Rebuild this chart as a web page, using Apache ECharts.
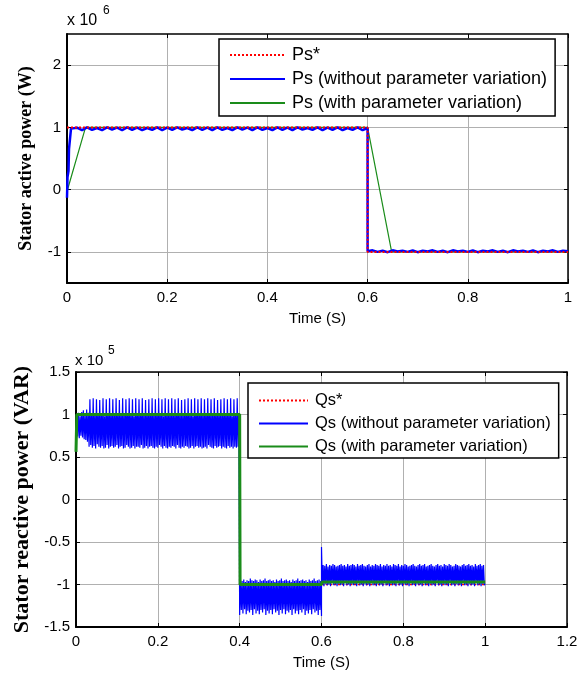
<!DOCTYPE html>
<html>
<head>
<meta charset="utf-8">
<title>Stator power</title>
<script src="https://cdn.jsdelivr.net/npm/echarts@6.0.0/dist/echarts.min.js"></script>
<style>
  html, body { margin: 0; padding: 0; background: #fff; }
  #chart { width: 585px; height: 675px; }
</style>
</head>
<body>
<div id="chart"></div>
<script>
// ---- data (top in x1e6 W, bottom in x1e5 VAR) ----
var yTicksTop = [-1, 0, 1, 2];

var psRefT = [0, 0.6, 0.6, 1];
var psRef = [1, 1, -1, -1];

var psBlueStartT = [0, 0.001, 0.003, 0.004, 0.006, 0.008];
var psBlueStart = [-0.13, 0.2, 0.3, 0.65, 0.66, 0.98];
// from t = 0.01 to 0.60, every 0.01 s
var psBlueOn = [
    0.96, 0.995, 0.955, 1.0, 0.96, 0.99, 0.955, 1.0, 0.965, 0.995,
    0.955, 1.0, 0.96, 0.995, 0.955, 0.99, 0.96, 1.0, 0.955, 0.995,
    0.96, 1.0, 0.965, 0.99, 0.955, 1.0, 0.96, 0.995, 0.955, 1.0,
    0.96, 0.99, 0.955, 1.0, 0.965, 0.995, 0.955, 1.0, 0.96, 0.99,
    0.955, 1.0, 0.96, 0.995, 0.955, 1.0, 0.965, 0.99, 0.96, 1.0,
    0.955, 0.995, 0.96, 1.0, 0.955, 0.99, 0.96, 1.0, 0.955, 0.99
];
// from t = 0.60 to 1.00, every 0.01 s
var psBlueOff = [
    -0.99, -0.975, -1.0, -0.98, -1.005, -0.975, -0.995, -0.98, -1.0, -0.975,
    -1.005, -0.98, -0.995, -0.975, -1.0, -0.98, -1.005, -0.975, -0.995, -0.98,
    -1.0, -0.975, -1.005, -0.98, -0.995, -0.975, -1.0, -0.98, -1.005, -0.975,
    -0.995, -0.98, -1.0, -0.975, -1.005, -0.98, -0.995, -0.975, -1.0, -0.98,
    -0.99
];

var psGreenT = [0, 0.037, 0.6, 0.648, 1];
var psGreen = [-0.03, 1, 1, -1, -1];

var qsRefT = [0, 0.4, 0.4, 1];
var qsRef = [1, 1, -1, -1];

// blue, from t = 0 to 0.40, every 0.002 s
var qsBlueA = [
    0.57, 1.00, 0.74, 1.02, 0.72, 0.98, 0.75, 1.03, 0.73, 1.05, 0.71, 1.00, 0.70, 1.06, 0.68, 1.02,
    0.62, 1.18, 0.64, 1.00, 0.61, 1.19, 0.63, 0.99, 0.60, 1.18, 0.65, 1.01, 0.62, 1.17, 0.61, 1.00, 0.63, 1.19, 0.60, 0.98,
    0.61, 1.18, 0.64, 1.01, 0.60, 1.19, 0.62, 1.00, 0.63, 1.18, 0.61, 0.99, 0.62, 1.19, 0.64, 1.01, 0.60, 1.17, 0.62, 1.00,
    0.63, 1.19, 0.60, 0.99, 0.61, 1.18, 0.64, 1.01, 0.62, 1.19, 0.60, 1.00, 0.61, 1.18, 0.63, 0.98, 0.60, 1.19, 0.62, 1.01,
    0.62, 1.18, 0.61, 1.00, 0.64, 1.19, 0.60, 0.99, 0.61, 1.17, 0.63, 1.01, 0.60, 1.18, 0.62, 1.00, 0.63, 1.19, 0.61, 0.99,
    0.60, 1.18, 0.62, 1.01, 0.61, 1.19, 0.64, 1.00, 0.62, 1.18, 0.60, 0.98, 0.63, 1.19, 0.61, 1.01, 0.60, 1.18, 0.62, 1.00,
    0.61, 1.19, 0.63, 0.99, 0.62, 1.18, 0.60, 1.01, 0.64, 1.19, 0.61, 1.00, 0.60, 1.17, 0.62, 0.99, 0.61, 1.18, 0.63, 1.01,
    0.62, 1.19, 0.60, 1.00, 0.61, 1.18, 0.63, 0.98, 0.60, 1.19, 0.62, 1.01, 0.63, 1.18, 0.61, 1.00, 0.62, 1.19, 0.60, 0.99,
    0.61, 1.18, 0.62, 1.01, 0.60, 1.19, 0.64, 1.00, 0.62, 1.18, 0.61, 0.99, 0.60, 1.19, 0.63, 1.01, 0.61, 1.17, 0.62, 1.00,
    0.63, 1.18, 0.60, 0.99, 0.62, 1.19, 0.61, 1.01, 0.60, 1.18, 0.63, 1.00, 0.61, 1.19, 0.62, 0.98, 0.60, 1.18, 0.62, 1.00,
    0.61, 1.19, 0.62, 1.00, 1.00
];
// blue, from t = 0.40 to 0.60, every 0.002 s
var qsBlueB = [
    -1.36, -0.95, -1.30, -0.96, -1.34, -0.94, -1.29, -0.97, -1.35, -0.95, -1.31, -0.96, -1.33, -0.93, -1.30, -0.95, -1.36, -0.96, -1.29, -0.94,
    -1.34, -0.95, -1.31, -0.97, -1.35, -0.94, -1.30, -0.96, -1.33, -0.95, -1.29, -0.93, -1.36, -0.96, -1.31, -0.95, -1.34, -0.94, -1.30, -0.96,
    -1.35, -0.95, -1.29, -0.97, -1.33, -0.94, -1.31, -0.96, -1.36, -0.95, -1.30, -0.93, -1.34, -0.96, -1.29, -0.95, -1.35, -0.94, -1.31, -0.96,
    -1.33, -0.95, -1.30, -0.97, -1.36, -0.94, -1.29, -0.96, -1.34, -0.95, -1.31, -0.93, -1.35, -0.96, -1.30, -0.95, -1.33, -0.94, -1.29, -0.96,
    -1.36, -0.95, -1.31, -0.97, -1.34, -0.94, -1.30, -0.96, -1.35, -0.95, -1.29, -0.93, -1.33, -0.96, -1.31, -0.95, -1.36, -0.94, -1.30, -0.96,
    -1.37
];
// blue, from t = 0.60 to 1.00, every 0.002 s
var qsBlueC = [
    -0.56, -1.00, -0.77, -1.02, -0.78, -0.99, -0.76, -1.01, -0.79, -1.00, -0.77, -1.02, -0.78, -0.98, -0.76, -1.01, -0.77, -1.00, -0.79, -1.02,
    -0.78, -0.99, -0.77, -1.01, -0.76, -1.00, -0.78, -1.02, -0.77, -0.98, -0.79, -1.01, -0.76, -1.00, -0.78, -1.02, -0.77, -0.99, -0.76, -1.01,
    -0.77, -1.00, -0.79, -1.02, -0.76, -0.98, -0.78, -1.01, -0.77, -1.00, -0.76, -1.02, -0.78, -0.99, -0.79, -1.01, -0.77, -1.00, -0.76, -1.02,
    -0.79, -0.98, -0.77, -1.01, -0.78, -1.00, -0.76, -1.02, -0.77, -0.99, -0.78, -1.01, -0.76, -1.00, -0.79, -1.02, -0.77, -0.98, -0.78, -1.01,
    -0.76, -1.00, -0.78, -1.02, -0.77, -0.99, -0.79, -1.01, -0.76, -1.00, -0.77, -1.02, -0.78, -0.98, -0.76, -1.01, -0.79, -1.00, -0.77, -1.02,
    -0.78, -0.99, -0.76, -1.01, -0.77, -1.00, -0.79, -1.02, -0.78, -0.98, -0.77, -1.01, -0.76, -1.00, -0.78, -1.02, -0.79, -0.99, -0.77, -1.01,
    -0.76, -1.00, -0.78, -1.02, -0.77, -0.98, -0.76, -1.01, -0.79, -1.00, -0.78, -1.02, -0.77, -0.99, -0.76, -1.01, -0.78, -1.00, -0.79, -1.02,
    -0.77, -0.98, -0.76, -1.01, -0.78, -1.00, -0.77, -1.02, -0.79, -0.99, -0.76, -1.01, -0.77, -1.00, -0.78, -1.02, -0.76, -0.98, -0.77, -1.01,
    -0.79, -1.00, -0.78, -1.02, -0.76, -0.99, -0.77, -1.01, -0.78, -1.00, -0.79, -1.02, -0.77, -0.98, -0.76, -1.01, -0.78, -1.00, -0.77, -1.02,
    -0.76, -0.99, -0.78, -1.01, -0.77, -1.00, -0.79, -1.02, -0.76, -0.98, -0.78, -1.01, -0.77, -1.00, -0.76, -1.02, -0.78, -0.99, -0.77, -1.01,
    -0.99
];

var qsGreenT = [0, 0.002, 0.4, 0.401, 0.6, 0.601, 1];
var qsGreen = [0.56, 1.0, 1.0, -1.0, -1.0, -0.97, -0.97];

// ---- helpers ----
function zip(times, values) {
    return values.map(function (v, i) { return [times[i], v]; });
}
function sampled(t0, dt, values) {
    return values.map(function (v, i) { return [+(t0 + i * dt).toFixed(4), v]; });
}

var RED = '#ff0000';
var BLUE = '#0000ff';
var GREEN = '#1a8c1a';
var SANS = 'Liberation Sans';

function frameAxis(pos, gridIndex, min, max, interval, ticks) {
    var isX = pos === 'bottom' || pos === 'top';
    var main = pos === 'bottom' || pos === 'left';
    var ax = {
        type: 'value',
        gridIndex: gridIndex,
        position: pos,
        min: min,
        max: max,
        axisLine: { show: true, onZero: false, lineStyle: { color: '#000', width: main ? 2 : 1.5 } },
        axisTick: { show: true, inside: true, length: 4, lineStyle: { color: '#000' } },
        axisLabel: { show: main, color: '#000', fontFamily: SANS, fontSize: 15, margin: isX ? 7 : 6 },
        splitLine: { show: main, lineStyle: { color: '#b0b0b0', width: 1 } }
    };
    if (interval) {
        ax.interval = interval;
    }
    if (ticks) {
        ax.axisTick.customValues = ticks;
        ax.axisLabel.customValues = ticks;
    }
    return ax;
}

var xAxes = [
    frameAxis('bottom', 0, 0, 1, 0.2),
    frameAxis('top', 0, 0, 1, 0.2),
    frameAxis('bottom', 1, 0, 1.2, 0.2),
    frameAxis('top', 1, 0, 1.2, 0.2)
];
[0, 2].forEach(function (i) {
    xAxes[i].name = 'Time (S)';
    xAxes[i].nameLocation = 'middle';
    xAxes[i].nameGap = 28;
    xAxes[i].nameTextStyle = { color: '#000', fontFamily: SANS, fontSize: 15 };
});

var yAxes = [
    frameAxis('left', 0, -1.5, 2.5, null, yTicksTop),
    frameAxis('right', 0, -1.5, 2.5, null, yTicksTop),
    frameAxis('left', 1, -1.5, 1.5, 0.5),
    frameAxis('right', 1, -1.5, 1.5, 0.5)
];
yAxes[0].name = 'Stator active power (W)';
yAxes[0].nameGap = 32;
yAxes[0].nameTextStyle = { color: '#000', fontFamily: 'Liberation Serif', fontWeight: 'bold', fontSize: 18 };
yAxes[2].name = 'Stator reactive power (VAR)';
yAxes[2].nameGap = 35;
yAxes[2].nameTextStyle = { color: '#000', fontFamily: 'Liberation Serif', fontWeight: 'bold', fontSize: 22 };
yAxes[0].nameLocation = yAxes[2].nameLocation = 'middle';

function line(name, data, xi, color, width, type, z) {
    return {
        name: name,
        type: 'line',
        xAxisIndex: xi,
        yAxisIndex: xi,
        data: data,
        symbol: 'none',
        z: z,
        lineStyle: { color: color, width: width, type: type },
        itemStyle: { color: color }
    };
}

// the legend keys are plain line samples, so the marker dot is hidden
var legendBase = {
    orient: 'vertical',
    backgroundColor: '#fff',
    borderColor: '#000',
    borderWidth: 1.5,
    itemStyle: { opacity: 0 },
    selectedMode: false
};

var chart = echarts.init(document.getElementById('chart'));
chart.setOption({
    animation: false,
    backgroundColor: '#fff',
    grid: [
        { left: 67, right: 17, top: 34, bottom: 392 },
        { left: 76, right: 18, top: 372, bottom: 48 }
    ],
    xAxis: xAxes,
    yAxis: yAxes,
    legend: [
        Object.assign({}, legendBase, {
            left: 219, top: 39,
            padding: [7, 8, 4, 10],
            itemWidth: 55, itemHeight: 14, itemGap: 6,
            textStyle: { color: '#000', fontFamily: SANS, fontSize: 18, padding: [0, 0, 0, 2] },
            data: ['Ps*', 'Ps (without parameter variation)', 'Ps (with parameter variation)']
        }),
        Object.assign({}, legendBase, {
            left: 248, top: 383,
            padding: [9, 8, 3, 10],
            itemWidth: 49, itemHeight: 14, itemGap: 6,
            textStyle: { color: '#000', fontFamily: SANS, fontSize: 16.5, padding: [0, 0, 0, 2] },
            data: ['Qs*', 'Qs (without parameter variation)', 'Qs (with parameter variation)']
        })
    ],
    graphic: [
        { type: 'text', left: 67, top: 13, style: { text: 'x 10', font: '16px "Liberation Sans"', fill: '#000' } },
        { type: 'text', left: 103, top: 5, style: { text: '6', font: '12px "Liberation Sans"', fill: '#000' } },
        { type: 'text', left: 75, top: 353, style: { text: 'x 10', font: '15px "Liberation Sans"', fill: '#000' } },
        { type: 'text', left: 108, top: 345, style: { text: '5', font: '12px "Liberation Sans"', fill: '#000' } }
    ],
    series: [
        line('Ps*', zip(psRefT, psRef), 0, RED, 2, [2, 2], 4),
        line('Ps (without parameter variation)',
            zip(psBlueStartT, psBlueStart)
                .concat(sampled(0.01, 0.01, psBlueOn))
                .concat(sampled(0.6, 0.01, psBlueOff)),
            0, BLUE, 2.5, 'solid', 3),
        line('Ps (with parameter variation)', zip(psGreenT, psGreen), 0, GREEN, 1.2, 'solid', 2),

        line('Qs*', zip(qsRefT, qsRef), 2, RED, 1.5, [2, 2], 1),
        line('Qs (without parameter variation)',
            sampled(0, 0.002, qsBlueA)
                .concat(sampled(0.4, 0.002, qsBlueB))
                .concat(sampled(0.6, 0.002, qsBlueC)),
            2, BLUE, 1.2, 'solid', 2),
        line('Qs (with parameter variation)', zip(qsGreenT, qsGreen), 2, GREEN, 3, 'solid', 3)
    ]
});
</script>
</body>
</html>
